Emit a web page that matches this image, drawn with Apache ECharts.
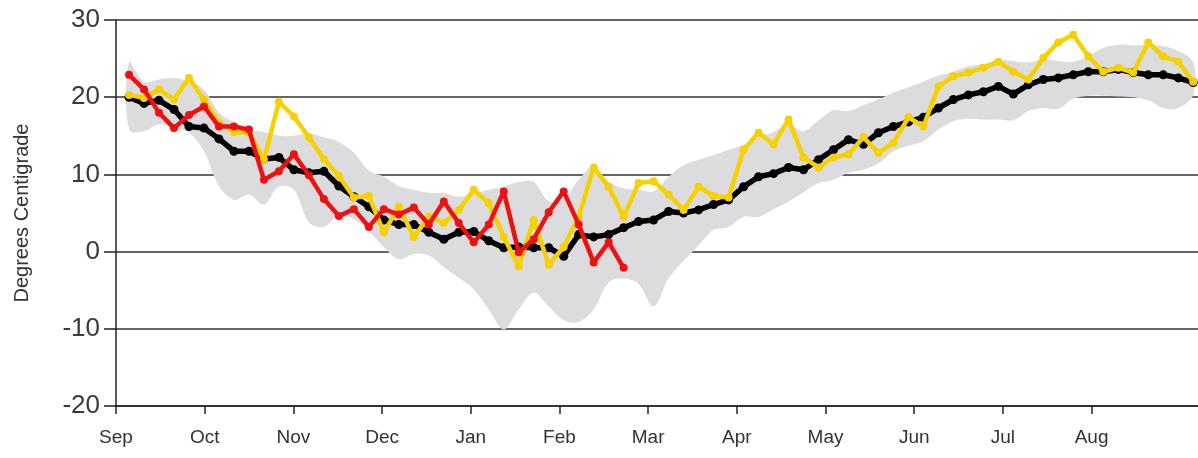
<!DOCTYPE html>
<html>
<head>
<meta charset="utf-8">
<script src="https://cdn.jsdelivr.net/npm/echarts@6/dist/echarts.min.js"></script>
<style>
  html, body { margin: 0; padding: 0; background: #fff; }
  #main { width: 1198px; height: 458px; }
</style>
</head>
<body>
<div id="main"></div>
<script>
// month tick labels, one tick per month starting at Sep
const months = ["Sep", "Oct", "Nov", "Dec", "Jan", "Feb", "Mar", "Apr", "May", "Jun", "Jul", "Aug"];

// 5-day readings through the season (Sep -> Aug)
const avgTemp = [
  20.0, 19.2, 19.6, 18.4, 16.2, 16.0, 14.6, 13.0, 13.0, 12.0, 12.2, 10.6,
  10.2, 10.4, 8.5, 7.1, 5.8, 4.1, 3.5, 3.5, 2.5, 1.6, 2.5, 2.6,
  1.4, 0.5, 0.6, 0.5, 0.5, -0.6, 2.2, 1.9, 2.2, 3.1, 3.9, 4.1,
  5.2, 5.0, 5.4, 6.1, 6.7, 8.4, 9.7, 10.1, 10.9, 10.6, 11.9, 13.2,
  14.5, 13.9, 15.4, 16.2, 16.8, 17.4, 18.6, 19.7, 20.3, 20.7, 21.4, 20.4,
  21.6, 22.3, 22.5, 22.9, 23.3, 23.3, 23.6, 23.2, 22.9, 22.9, 22.5, 21.9
];
const lastYear = [
  20.3, 19.9, 21.0, 19.7, 22.5, 19.7, 16.7, 15.5, 15.4, 11.9, 19.4, 17.5,
  14.8, 12.0, 9.8, 7.0, 7.2, 2.5, 5.8, 1.9, 4.5, 3.7, 5.4, 8.0,
  6.3, 1.9, -1.9, 4.1, -1.7, 0.6, 4.5, 10.9, 8.4, 4.5, 8.9, 9.1,
  7.4, 5.4, 8.4, 7.2, 7.0, 13.2, 15.4, 13.9, 17.1, 12.2, 10.9, 12.2,
  12.6, 14.8, 12.8, 14.1, 17.4, 16.2, 21.4, 22.7, 23.2, 23.8, 24.6, 23.3,
  22.3, 25.1, 27.1, 28.1, 25.3, 23.3, 23.8, 23.2, 27.1, 25.3, 24.6, 22.0
];
const thisYear = [
  22.9, 21.0, 18.0, 16.0, 17.7, 18.8, 16.2, 16.2, 15.8, 9.3, 10.4, 12.6,
  9.9, 6.8, 4.6, 5.5, 3.2, 5.5, 4.8, 5.7, 3.5, 6.5, 3.7, 1.2,
  3.5, 7.8, -0.1, 1.6, 5.1, 7.8, 3.5, -1.4, 1.2, -2.1
];
const rangeMax = [
  24.5, 22.0, 22.3, 22.5, 22.0, 21.0, 18.0, 16.8, 15.8, 15.5, 15.0, 15.0,
  15.3, 14.8, 14.2, 12.8, 10.5, 9.7, 8.5, 8.0, 7.6, 7.6, 7.1, 7.5,
  8.0, 8.4, 9.0, 9.0, 6.5, 6.8, 9.3, 11.0, 9.0, 8.2, 8.0, 7.8,
  9.7, 11.2, 11.9, 12.5, 13.2, 13.8, 14.8, 15.5, 16.5, 15.6, 17.0, 18.3,
  18.2, 19.0, 19.7, 20.6, 21.3, 22.0, 22.8, 23.3, 24.0, 24.3, 24.8, 24.7,
  24.5, 24.9, 24.7, 24.6, 25.3, 26.4, 26.8, 26.7, 26.8, 26.6, 26.0, 24.5
];
const rangeMin = [
  15.8, 15.6, 16.5, 16.0, 15.4, 13.0, 8.5, 6.7, 7.4, 6.1, 8.4, 8.0,
  3.8, 3.2, 4.6, 4.2, 2.6, 0.6, -1.0, -0.3, -0.5, -2.0, -3.4, -4.9,
  -7.5, -10.1, -7.5, -5.3, -7.1, -8.9, -9.1, -7.5, -4.0, -3.5, -4.2, -7.1,
  -3.5, -1.2, 0.8, 2.8, 3.2, 4.5, 4.5, 5.5, 6.5, 7.7, 8.9, 9.3,
  10.2, 10.6, 11.4, 13.0, 13.7, 14.3, 15.8, 16.9, 17.2, 17.1, 17.1, 17.0,
  18.2, 18.6, 18.5, 19.8, 20.2, 20.2, 20.1, 20.0, 19.6, 18.6, 18.6, 20.3
];

// position of reading i on the month axis
const x0 = 0.147, step = 0.169;
const xAt = i => x0 + i * step;
const pts = arr => arr.map((v, i) => [xAt(i), v]);
const monthIdx = months.map((m, i) => i);

const chart = echarts.init(document.getElementById("main"));

const option = {
  animation: false,
  grid: { left: 116, right: 0, top: 20, bottom: 52 },
  xAxis: {
    type: "value",
    min: 0,
    max: 12.2,
    interval: 1,
    axisLine: { show: true, onZero: false, lineStyle: { color: "#222", width: 1.5 } },
    axisTick: { show: true, length: 8, customValues: monthIdx, lineStyle: { color: "#222", width: 1.5 } },
    splitLine: { show: false },
    axisLabel: {
      margin: 22,
      fontSize: 19,
      color: "#333",
      fontFamily: "Liberation Sans, Arial",
      customValues: monthIdx,
      formatter: v => months[Math.round(v)] || ""
    }
  },
  yAxis: {
    type: "value",
    min: -20,
    max: 30,
    interval: 10,
    name: "Degrees Centigrade",
    nameLocation: "middle",
    nameGap: 84,
    nameTextStyle: { fontSize: 20, color: "#333", fontFamily: "Liberation Sans, Arial" },
    axisLine: { show: true, lineStyle: { color: "#222", width: 1.5 } },
    axisTick: { show: true, length: 12, lineStyle: { color: "#222", width: 1.5 } },
    splitLine: { show: true, lineStyle: { color: "#333", width: 1.5 } },
    axisLabel: {
      margin: 16,
      fontSize: 26,
      color: "#3a3a3a",
      fontFamily: "Liberation Sans, Arial"
    }
  },
  series: [
    {
      // historic min..max range as one filled shape
      type: "custom",
      silent: true,
      z: 1,
      data: rangeMin.map((v, i) => [xAt(i), v, rangeMax[i]]),
      encode: { x: 0, y: [1, 2] },
      renderItem: (params, api) => {
        if (params.dataIndex !== 0) return;
        const top = rangeMax.map((v, i) => api.coord([xAt(i), v]));
        const bot = rangeMin.map((v, i) => api.coord([xAt(i), v])).reverse();
        return {
          type: "polygon",
          shape: { points: top.concat(bot), smooth: 0.35 },
          style: { fill: "#dcdcde" }
        };
      }
    },
    {
      name: "Average",
      type: "line",
      data: pts(avgTemp),
      symbol: "circle",
      symbolSize: 9,
      itemStyle: { color: "#000" },
      lineStyle: { color: "#000", width: 5.5 },
      z: 3
    },
    {
      name: "Last year",
      type: "line",
      data: pts(lastYear),
      symbol: "circle",
      symbolSize: 8,
      itemStyle: { color: "#f7d000" },
      lineStyle: { color: "#f7d000", width: 4.5 },
      z: 4
    },
    {
      name: "This year",
      type: "line",
      data: pts(thisYear),
      symbol: "circle",
      symbolSize: 8,
      itemStyle: { color: "#ee1111" },
      lineStyle: { color: "#ee1111", width: 4.5 },
      z: 5
    }
  ]
};

chart.setOption(option);
</script>
</body>
</html>
